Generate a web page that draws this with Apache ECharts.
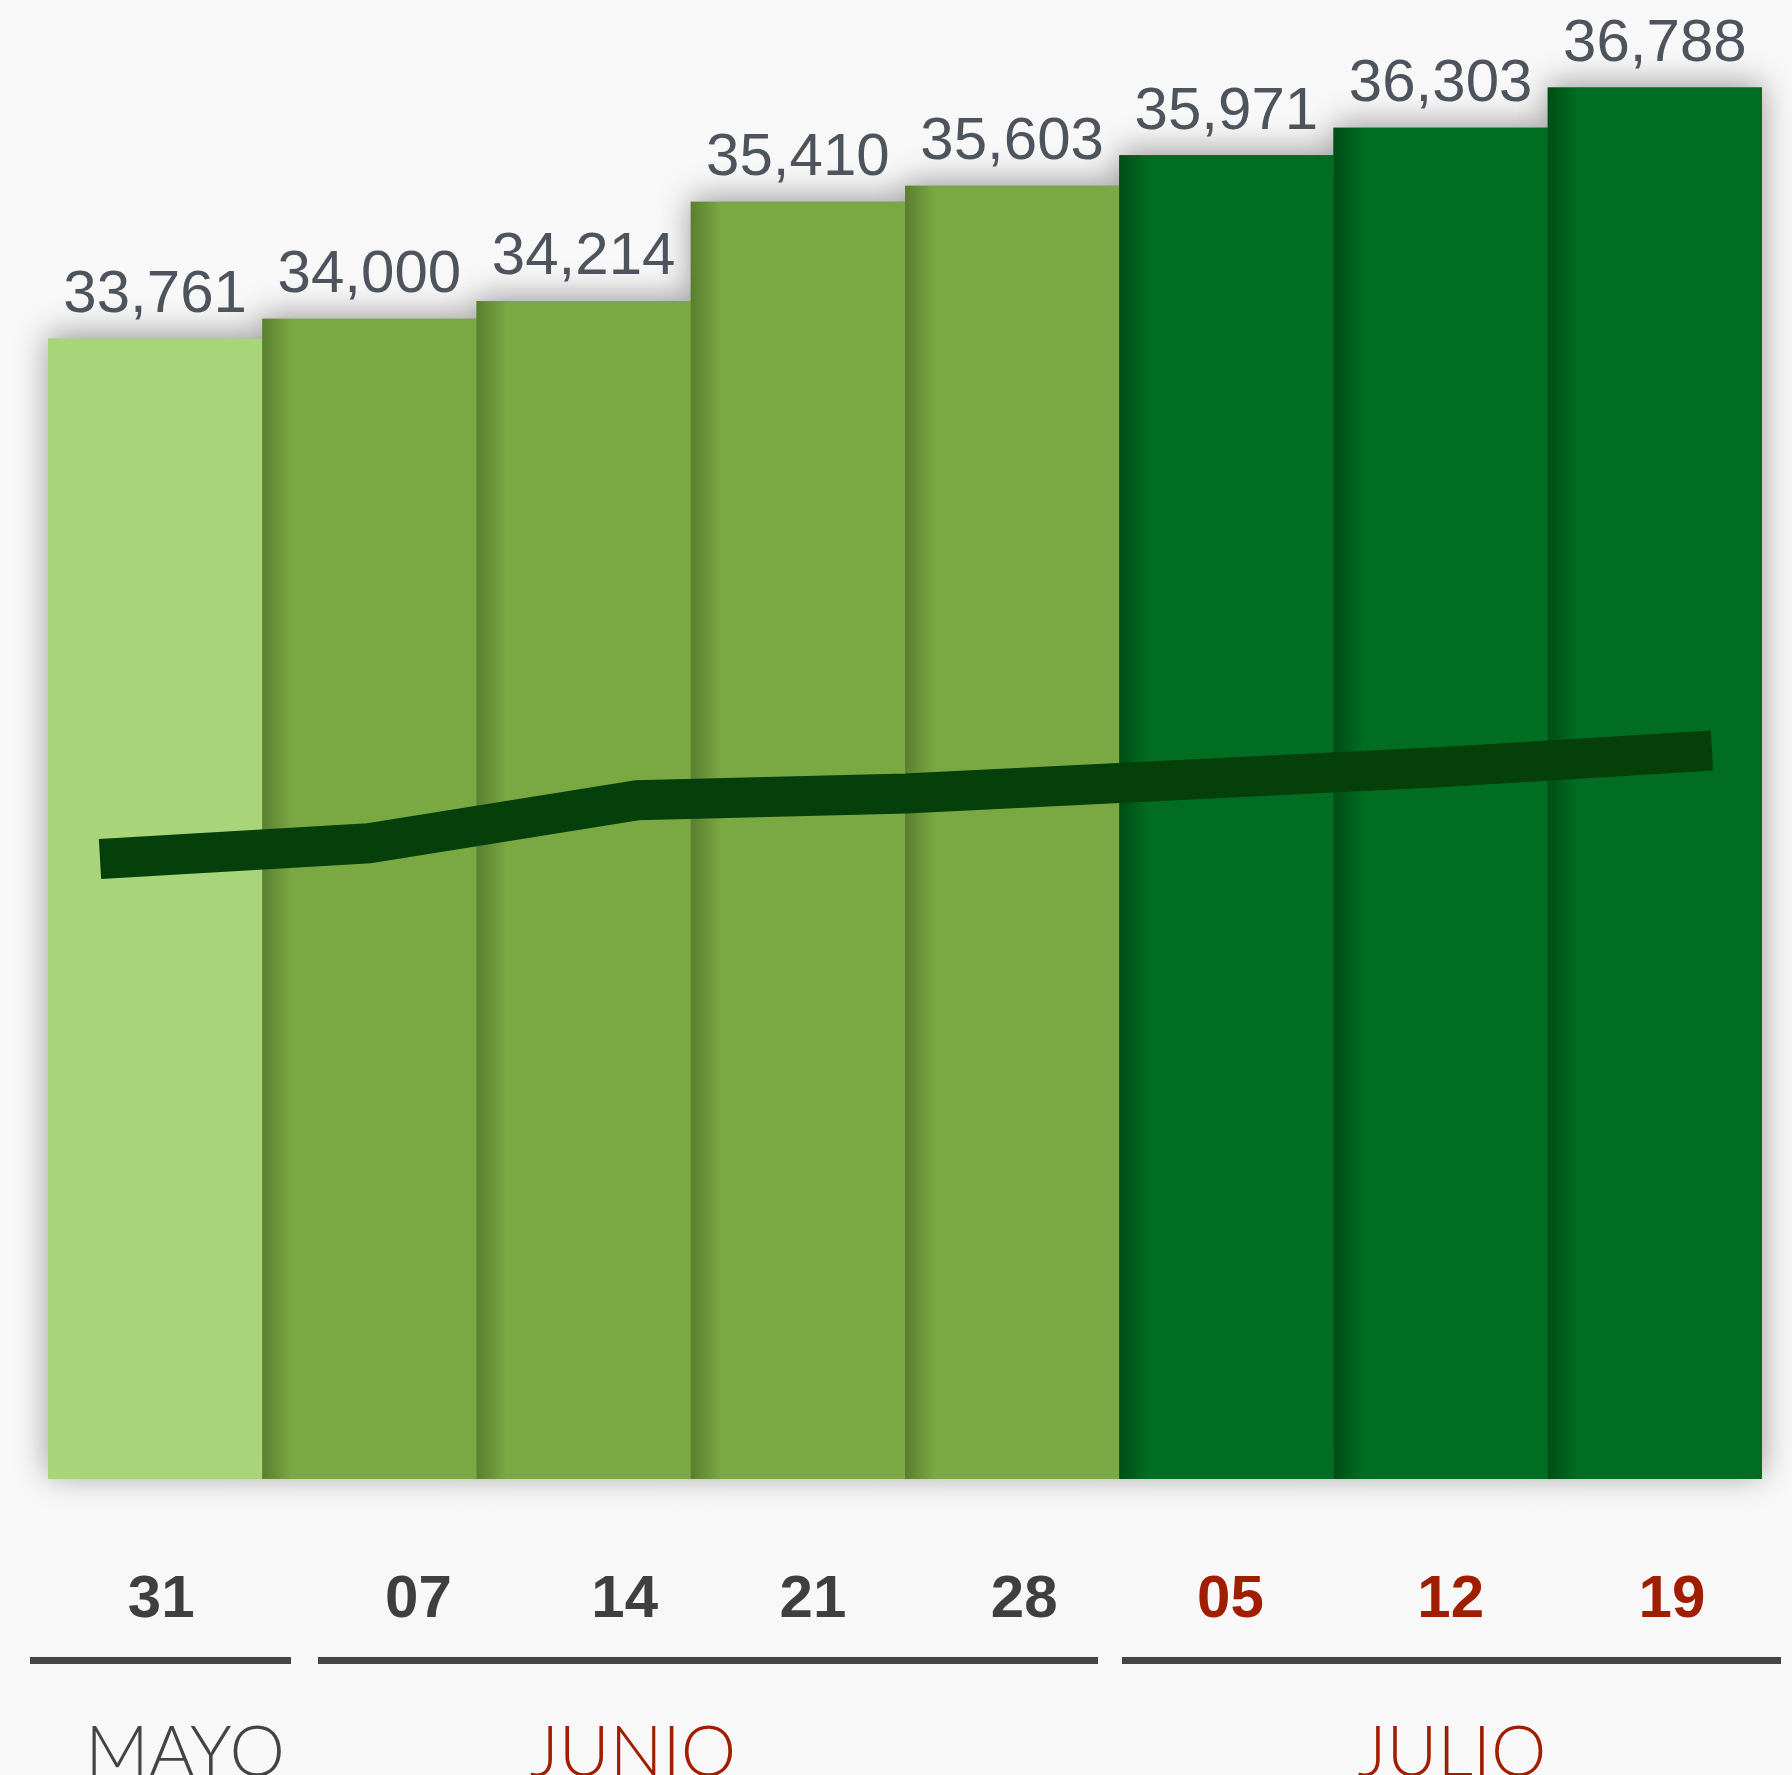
<!DOCTYPE html>
<html>
<head>
<meta charset="utf-8">
<script src="https://cdn.jsdelivr.net/npm/echarts@6/dist/echarts.min.js"></script>
<style>
  html, body { margin: 0; padding: 0; background: #f8f8f8; }
  #chart { width: 1792px; height: 1775px; }
</style>
</head>
<body>
<div id="chart"></div>
<script>
// datos
var days = ['31', '07', '14', '21', '28', '05', '12', '19'];
var totals = [33761, 34000, 34214, 35410, 35603, 35971, 36303, 36788];
var trend = [27480, 27670, 28190, 28270, 28430, 28590, 28790];
var months = ['MAYO', 'JUNIO', 'JULIO'];
var monthOfDay = [0, 1, 1, 1, 1, 2, 2, 2];

// estilos
var barBase = ['#a8d57a', '#7aa843', '#006d22'];
var barEdge = ['#a8d57a', '#5a7f30', '#004d16'];
var dayColor = ['#3f3f3f', '#3f3f3f', '#a11d00'];
var monthColor = ['#444444', '#a11d00', '#a11d00'];
var labelNudge = [6, 49, 41, 15, 12, 4, 10, 17];

function fmt(v) {
  return String(v).replace(/\B(?=(\d{3})+(?!\d))/g, ',');
}

var mainData = totals.map(function (v, i) {
  var g = monthOfDay[i];
  return {
    value: v,
    itemStyle: {
      color: new echarts.graphic.LinearGradient(0, 0, 1, 0, [
        { offset: 0, color: barEdge[g] },
        { offset: 0.14, color: barBase[g] },
        { offset: 1, color: barBase[g] }
      ])
    }
  };
});

var shadowData = totals.map(function (v, i) {
  return { value: v, itemStyle: { color: barBase[monthOfDay[i]] } };
});

var dayData = days.map(function (d, i) {
  var n = labelNudge[i];
  return {
    value: d,
    textStyle: {
      color: dayColor[monthOfDay[i]],
      padding: n >= 0 ? [0, 0, 0, 2 * n] : [0, -2 * n, 0, 0]
    }
  };
});

var myChart = echarts.init(document.getElementById('chart'));

var option = {
  backgroundColor: '#f8f8f8',
  animation: false,
  grid: [
    { left: 48, right: 30, top: 70, bottom: 296 },
    { left: 100, right: 80, top: 70, bottom: 296 }
  ],
  xAxis: [
    {
      type: 'category',
      gridIndex: 0,
      data: dayData,
      axisLine: { show: false },
      axisTick: { show: false },
      axisLabel: {
        margin: 91,
        fontSize: 60,
        fontWeight: 'bold',
        fontFamily: 'Liberation Sans, Arial, sans-serif',
        color: '#3f3f3f',
        interval: 0
      }
    },
    {
      type: 'category',
      gridIndex: 1,
      boundaryGap: false,
      data: trend.map(function (v, i) { return 'p' + i; }),
      show: false
    }
  ],
  yAxis: [
    { type: 'value', gridIndex: 0, min: 20000, max: 37000, show: false, splitLine: { show: false } },
    { type: 'value', gridIndex: 1, min: 20000, max: 37000, show: false, splitLine: { show: false } }
  ],
  series: [
    {
      name: 'sombra',
      type: 'bar',
      xAxisIndex: 0,
      yAxisIndex: 0,
      data: shadowData,
      barGap: '-100%',
      barCategoryGap: '0%',
      itemStyle: {
        shadowBlur: 30,
        shadowColor: 'rgba(0,0,0,0.38)',
        shadowOffsetY: -4
      },
      silent: true
    },
    {
      name: 'total',
      type: 'bar',
      xAxisIndex: 0,
      yAxisIndex: 0,
      data: mainData,
      barGap: '-100%',
      barCategoryGap: '0%',
      label: {
        show: true,
        position: 'top',
        distance: 13,
        fontSize: 60,
        fontFamily: 'Liberation Sans, Arial, sans-serif',
        color: '#4d545e',
        formatter: function (p) { return fmt(p.value); }
      }
    },
    {
      name: 'tendencia',
      type: 'line',
      xAxisIndex: 1,
      yAxisIndex: 1,
      data: trend,
      symbol: 'none',
      lineStyle: { color: '#053f0a', width: 40, cap: 'butt', join: 'miter' }
    }
  ],
  graphic: [
    { type: 'rect', shape: { x: 30, y: 1657, width: 261, height: 7 }, style: { fill: '#454545' } },
    { type: 'rect', shape: { x: 318, y: 1657, width: 780, height: 7 }, style: { fill: '#454545' } },
    { type: 'rect', shape: { x: 1122, y: 1657, width: 659, height: 7 }, style: { fill: '#454545' } },
    { type: 'text', x: 185, y: 1753, style: { text: months[0], fill: monthColor[0], font: '300 70px Lato, sans-serif', align: 'center', verticalAlign: 'middle' } },
    { type: 'text', x: 633, y: 1753, style: { text: months[1], fill: monthColor[1], font: '300 70px Lato, sans-serif', align: 'center', verticalAlign: 'middle' } },
    { type: 'text', x: 1452, y: 1753, style: { text: months[2], fill: monthColor[2], font: '300 70px Lato, sans-serif', align: 'center', verticalAlign: 'middle' } }
  ]
};

myChart.setOption(option);
window.onresize = myChart.resize;
</script>
</body>
</html>
